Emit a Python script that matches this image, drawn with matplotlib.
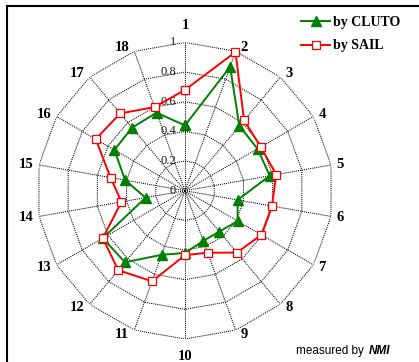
import numpy as np
import matplotlib
matplotlib.use("Agg")
import matplotlib.pyplot as plt
from matplotlib.lines import Line2D

categories = [str(i) for i in range(1, 19)]
cluto = [0.44, 0.89, 0.57, 0.565, 0.58, 0.36, 0.41, 0.36, 0.36,
         0.42, 0.46, 0.63, 0.64, 0.27, 0.41, 0.55, 0.555, 0.56]
sail = [0.68, 0.995, 0.62, 0.59, 0.625, 0.595, 0.595, 0.545, 0.445,
        0.435, 0.65, 0.70, 0.64, 0.435, 0.51, 0.695, 0.68, 0.60]
rticks = [0, 0.2, 0.4, 0.6, 0.8, 1]
rtick_labels = ["0", "0.2", "0.4", "0.6", "0.8", "1"]

W, H, DPI = 419, 362, 100
fig = plt.figure(figsize=(W / DPI, H / DPI), dpi=DPI)
fig.patch.set_facecolor("white")

cx, cy, R = 185.0, 190.7, 148.3
ax = fig.add_axes([(cx - R) / W, (H - cy - R) / H, 2 * R / W, 2 * R / H], projection="polar")
ax.set_theta_zero_location("N")
ax.set_theta_direction(-1)
ax.set_ylim(0, 1)
ax.set_xticks([])
ax.set_yticks([])
ax.grid(False)
ax.spines["polar"].set_visible(False)
ax.patch.set_alpha(0)

n = len(categories)
theta = np.arange(n) * 2 * np.pi / n
tc = np.append(theta, theta[0])

dot = (0, (1.0, 1.0))
for r in rticks[1:]:
    ax.plot(tc, [r] * (n + 1), color="black", lw=0.75, ls=dot, zorder=1)
for t in theta:
    ax.plot([t, t], [0, 1], color="black", lw=0.75, ls=dot, zorder=1)

green = "#008000"
red = "#FF0000"
ax.plot(tc, cluto + cluto[:1], color=green, lw=1.4, marker="^", ms=6.8,
        mfc=green, mec=green, zorder=3, clip_on=False)
ax.plot(tc, sail + sail[:1], color=red, lw=1.4, marker="s", ms=5.8,
        mfc="white", mec=red, mew=0.9, zorder=4, clip_on=False)

# radial tick labels
for r, lab in zip(rticks, rtick_labels):
    ax.annotate(lab, xy=(0, r), xytext=(-9, 0), textcoords="offset pixels",
                ha="right", va="center", fontsize=9, family="Liberation Serif",
                color="#1a1a1a", zorder=2)

# category labels
for k, (t, lab) in enumerate(zip(theta, categories)):
    s, c = np.sin(t), np.cos(t)
    if k == 0:
        off, ha = (0, 17), "center"
    elif k == n // 2:
        off, ha = (0, -17.5), "center"
    elif k < n // 2:
        off, ha = (5, 4.5 * c), "left"
    else:
        off, ha = (-5, 4.5 * c), "right"
    ax.annotate(lab, xy=(t, 1), xytext=off, textcoords="offset pixels",
                ha=ha, va="center", fontsize=10.5, family="Liberation Serif",
                fontweight="bold", annotation_clip=False)

# legend
handles = [Line2D([], [], color=green, lw=1.4, marker="^", ms=6.8, mfc=green, mec=green),
           Line2D([], [], color=red, lw=1.4, marker="s", ms=5.8, mfc="white", mec=red, mew=0.9)]
fig.legend(handles, ["by CLUTO", "by SAIL"], loc="upper left",
           bbox_to_anchor=(301 / W, 1 - 16 / H), frameon=False, borderaxespad=0,
           borderpad=0, handlelength=2.1, handletextpad=0.2, labelspacing=0.75,
           prop={"family": "Liberation Serif", "weight": "bold", "size": 10})

# footnote
t2 = fig.text(390.7 / W, 1 - 350.7 / H, "NMI", ha="right", va="center",
              fontsize=8.5, family="Liberation Sans", fontweight="bold", style="italic")
fig.canvas.draw()
bb = t2.get_window_extent()
fig.text(bb.x0 / W - 0.004, 1 - 350.7 / H, "measured by ", ha="right", va="center",
         fontsize=8.5, family="Liberation Sans")

# frame (left and top edges)
fig.add_artist(Line2D([7 / W, 7 / W], [0, 1 - 6 / H], color="black", lw=1.5,
                      transform=fig.transFigure))
fig.add_artist(Line2D([7 / W, 1], [1 - 6 / H, 1 - 6 / H], color="black", lw=1.5,
                      transform=fig.transFigure))

fig.savefig("out.png", dpi=DPI)
